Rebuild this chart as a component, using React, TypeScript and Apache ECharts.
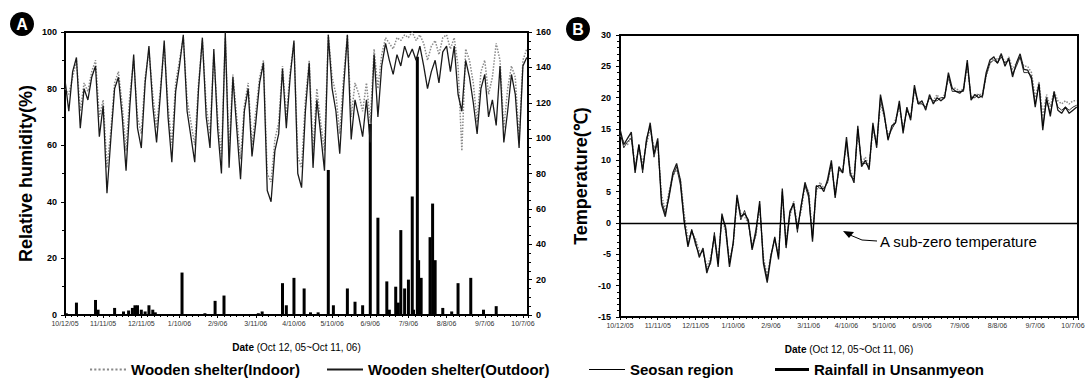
import React, { useEffect, useRef } from 'react';
import * as echarts from 'echarts';

const DATE_TICKS = ['10/12/05', '11/11/05', '12/11/05', '1/10/06', '2/9/06', '3/11/06', '4/10/06', '5/10/06', '6/9/06', '7/9/06', '8/8/06', '9/7/06', '10/7/06'];
const DAY_STEP = 3;

const RH_INDOOR = [80, 78, 84, 90, 72, 82, 79, 86, 90, 70, 76, 52, 65, 82, 86, 74, 58, 78, 90, 70, 64, 84, 93, 78, 66, 80, 95, 74, 60, 82, 90, 98, 76, 68, 60, 82, 97, 74, 64, 92, 70, 56, 98, 58, 85, 70, 55, 74, 82, 60, 72, 84, 90, 50, 47, 62, 68, 88, 70, 86, 96, 56, 52, 76, 90, 58, 80, 68, 58, 99, 84, 78, 64, 84, 99, 70, 82, 78, 72, 82, 68, 94, 80, 92, 98, 96, 94, 98, 97, 99, 98, 100, 97, 99, 96, 90, 95, 97, 92, 98, 99, 94, 98, 88, 58, 94, 90, 82, 68, 86, 90, 78, 84, 96, 90, 66, 80, 88, 84, 62, 90, 94];
const RH_OUTDOOR = [83, 72, 86, 91, 66, 80, 76, 84, 88, 63, 74, 43, 62, 80, 84, 70, 51, 74, 92, 66, 59, 82, 95, 74, 61, 78, 97, 70, 54, 79, 88, 99, 72, 63, 54, 80, 98, 70, 59, 94, 66, 50, 100, 52, 84, 66, 48, 72, 80, 56, 68, 82, 89, 44, 40, 58, 64, 87, 66, 84, 97, 50, 45, 72, 89, 52, 76, 64, 51, 99, 80, 72, 57, 80, 99, 62, 76, 70, 63, 76, 61, 92, 70, 88, 96, 90, 85, 92, 88, 95, 91, 94, 90, 95, 88, 80, 86, 90, 82, 93, 95, 86, 95, 78, 72, 90, 84, 75, 64, 80, 85, 70, 76, 67, 88, 61, 72, 85, 78, 59, 88, 91];

const RAIN_DAYS = [1, 9, 24, 26, 39, 46, 50, 53, 55, 57, 60, 63, 66, 69, 71, 92, 110, 118, 125, 152, 155, 171, 174, 180, 188, 193, 199, 207, 211, 222, 228, 234, 240, 246, 253, 255, 260, 262, 264, 267, 270, 273, 274, 277, 278, 280, 287, 289, 291, 297, 304, 309, 319, 329, 339];
const RAIN_MM = [1, 7, 8.5, 3, 4, 2, 2.5, 4, 5.5, 5.5, 3, 2, 5.5, 3, 1.5, 24, 1, 8, 11, 1, 2, 18, 5.5, 21, 15, 1.5, 1.5, 82, 5.5, 15, 7.5, 5.5, 108, 55, 19, 3, 16, 7, 48, 15, 20, 67, 3, 146, 31, 21, 44, 63, 31, 4, 2, 18, 21, 3, 5];

const T_INDOOR = [14, 13, 12.5, 14, 9, 12, 9.5, 12.5, 15, 12, 12.5, 4.5, 2, 5, 7.5, 8.5, 7, 1.5, -2.5, -1.5, -2.5, -4.5, -4.5, -7, -5.5, -2.5, -6, 1, -1.5, -6, -3.5, 3.5, 1.5, 1, 0, -3.5, -2, 2.5, -5.5, -8.5, -5, -2.8, -5, 4.5, -3, 1, 3.5, -0.5, 2, 6, 5, -2, 5, 6.5, 5.5, 6.5, 9.5, 4.5, 8.5, 8.5, 12.5, 8.5, 7, 14.5, 9.5, 10.5, 9, 15, 12.5, 19, 17, 14, 15, 16.5, 18.5, 15, 18, 17, 21, 19.5, 19, 18.5, 20, 19.5, 20.5, 19.5, 20.5, 23, 21.5, 21.5, 21, 21.5, 25, 20, 20.5, 20.5, 20.5, 23.5, 25.5, 26.5, 26, 27, 25.5, 26.5, 24.5, 25.5, 26.5, 25, 25, 24, 20, 22.5, 17, 20.5, 18.5, 21, 19.5, 19, 19.5, 19, 19.5, 19.5];
const T_OUTDOOR = [15, 12.5, 13.5, 14.5, 8, 12.5, 8.5, 13, 16, 11, 13.5, 3, 1, 4.5, 8, 9.5, 6.8, 0.5, -3.8, -1.2, -3, -5.5, -4, -8, -6, -2, -7, 1.5, -1, -7, -3.2, 4.5, 1, 1.5, 0.5, -4.3, -1.6, 3.5, -6.5, -9.5, -5.4, -2.2, -5.8, 5.5, -4, 1.6, 3.2, -1, 2.6, 6.5, 4.5, -3, 5.8, 6, 5, 7, 10, 4, 9, 8, 13.7, 8, 6.4, 15.5, 9, 10, 8.5, 16, 12, 20.5, 17.5, 13.2, 15.5, 16, 19.5, 14.3, 18.5, 16.4, 22, 19, 19.5, 18, 20.5, 19, 20, 19.5, 20, 24, 21.5, 21, 20.7, 21.3, 26, 19.6, 20.5, 20, 20.3, 24, 26, 26.5, 25.5, 27, 25, 26.3, 23.3, 25.5, 27, 24.5, 24.4, 23, 18.5, 22.3, 14.8, 20, 17, 21, 18, 17.5, 18.5, 17.5, 18, 18.5];
const T_SEOSAN = [14.5, 12, 13, 13.5, 8.5, 12.5, 8, 13.5, 15.5, 10.5, 13, 3.5, 1.5, 4, 7.5, 9, 6, 0, -3.5, -1, -3.5, -5, -4.5, -7.5, -6.5, -1.5, -6.5, 1, -0.5, -6.5, -3, 4, 0.5, 2, 0, -4, -1, 3, -6, -9, -5, -2.5, -5.5, 5, -3.5, 2, 3, -1.5, 3, 6, 4, -2.5, 6, 5.5, 5.5, 6.5, 9.5, 4.5, 8.5, 8, 13, 7.5, 7, 15, 9.5, 9.5, 9, 15.5, 12.5, 20, 17, 13.5, 15, 16, 19, 14.8, 18, 16.8, 21.5, 19, 19, 18.5, 20, 19.5, 19.5, 20, 20, 23.5, 21, 21, 21, 21, 25.5, 20, 20, 20.5, 20, 23.5, 25.5, 26, 25.5, 26.5, 25.5, 26, 23.8, 25, 26.5, 24, 24, 23.5, 19, 22, 15.5, 19.5, 17.5, 20.5, 18.5, 18, 18.5, 18, 18.5, 18.8];

const N_IN = 'Wooden shelter(Indoor)';
const N_OUT = 'Wooden shelter(Outdoor)';
const N_SEO = 'Seosan region';
const N_RAIN = 'Rainfall in Unsanmyeon';

const ICON_DOTTED = 'path://M0,0h2v2h-2z M4,0h2v2h-2z M8,0h2v2h-2z M12,0h2v2h-2z M16,0h2v2h-2z M20,0h2v2h-2z M24,0h2v2h-2z M28,0h2v2h-2z M32,0h2v2h-2z';
const ICON_MID = 'path://M0,0h36v2h-36z';
const ICON_THIN = 'path://M0,0h36v1h-36z';
const ICON_THICK = 'path://M0,0h34v3h-34z';

const pts = (arr: number[]) => arr.map((v, i) => [i * DAY_STEP, v]);

const FONT = 'Liberation Sans, Arial, sans-serif';

const dateFmt = (v: number) => {
  const k = v / 30;
  return Number.isInteger(k) && DATE_TICKS[k] ? DATE_TICKS[k] : '';
};

const xAxisBase = (gridIndex: number) => ({
  type: 'value',
  gridIndex,
  min: 0,
  max: 364,
  interval: 30,
  axisLine: { show: true, onZero: false, lineStyle: { color: '#000', width: 2 } },
  axisTick: { show: true, length: 3, lineStyle: { color: '#000' } },
  minorTick: { show: true, splitNumber: 6, length: 2, lineStyle: { color: '#000' } },
  splitLine: { show: false },
  axisLabel: { formatter: dateFmt, fontSize: 7, color: '#333', margin: 5, fontFamily: FONT },
  name: '{b|Date} (Oct 12, 05~Oct 11, 06)',
  nameLocation: 'middle',
  nameGap: 27,
  nameTextStyle: { fontSize: 10, color: '#000', fontFamily: FONT, rich: { b: { fontWeight: 'bold', fontSize: 10, color: '#000', fontFamily: FONT } } },
});

const yLabel = { fontSize: 9, fontWeight: 'bold', color: '#000', fontFamily: FONT };
const legendText = { fontSize: 15, fontWeight: 'bold', color: '#000', fontFamily: FONT };

export default function App() {
  const ref = useRef<HTMLDivElement>(null);
  useEffect(() => {
    if (!ref.current) return;
    const chart = echarts.init(ref.current, null, { renderer: 'svg' });
    const option: any = {
      animation: false,
      backgroundColor: '#fff',
      textStyle: { fontFamily: FONT },
      grid: [
        { left: 65, top: 32, width: 463, height: 283, show: true, borderColor: '#000', borderWidth: 2, backgroundColor: 'transparent' },
        { left: 620, top: 35, width: 458, height: 282, show: true, borderColor: '#000', borderWidth: 2, backgroundColor: 'transparent' },
      ],
      xAxis: [xAxisBase(0), xAxisBase(1)],
      yAxis: [
        {
          type: 'value', gridIndex: 0, position: 'left', min: 0, max: 100, interval: 20,
          axisLine: { show: true, lineStyle: { color: '#000', width: 2 } },
          axisTick: { show: true, length: 4, lineStyle: { color: '#000' } },
          minorTick: { show: true, splitNumber: 2, length: 3, lineStyle: { color: '#000' } },
          splitLine: { show: false },
          axisLabel: { ...yLabel, margin: 8 },
          name: 'Relative humidity(%)', nameLocation: 'middle', nameGap: 30,
          nameTextStyle: { fontSize: 18, fontWeight: 'bold', color: '#000', fontFamily: FONT },
        },
        {
          type: 'value', gridIndex: 0, position: 'right', min: 0, max: 160, interval: 20,
          axisLine: { show: true, lineStyle: { color: '#000', width: 2 } },
          axisTick: { show: true, length: 4, lineStyle: { color: '#000' } },
          minorTick: { show: true, splitNumber: 4, length: 3, lineStyle: { color: '#000' } },
          splitLine: { show: false },
          axisLabel: { ...yLabel, margin: 8 },
        },
        {
          type: 'value', gridIndex: 1, position: 'left', min: -15, max: 30, interval: 5,
          axisLine: { show: true, lineStyle: { color: '#000', width: 2 } },
          axisTick: { show: true, length: 4, lineStyle: { color: '#000' } },
          minorTick: { show: true, splitNumber: 5, length: 3, lineStyle: { color: '#000' } },
          splitLine: { show: false },
          axisLabel: { ...yLabel, margin: 9 },
          name: 'Temperature(℃)', nameLocation: 'middle', nameGap: 30,
          nameTextStyle: { fontSize: 18, fontWeight: 'bold', color: '#000', fontFamily: FONT },
        },
      ],
      legend: [
        { data: [{ name: N_IN, icon: ICON_DOTTED }], left: 85, top: 357, itemWidth: 36, itemHeight: 6, textStyle: legendText },
        { data: [{ name: N_OUT, icon: ICON_MID }], left: 322, top: 357, itemWidth: 36, itemHeight: 6, textStyle: legendText },
        { data: [{ name: N_SEO, icon: ICON_THIN }], left: 584, top: 357, itemWidth: 36, itemHeight: 6, textStyle: legendText },
        { data: [{ name: N_RAIN, icon: ICON_THICK }], left: 770, top: 357, itemWidth: 34, itemHeight: 6, textStyle: legendText },
      ],
      graphic: [
        { type: 'circle', shape: { cx: 22, cy: 24, r: 12 }, style: { fill: '#000' } },
        { type: 'text', x: 22, y: 24, style: { text: 'A', fill: '#fff', font: 'bold 16px ' + FONT, textAlign: 'center', textVerticalAlign: 'middle' } },
        { type: 'circle', shape: { cx: 578, cy: 29, r: 12 }, style: { fill: '#000' } },
        { type: 'text', x: 578, y: 29, style: { text: 'B', fill: '#fff', font: 'bold 16px ' + FONT, textAlign: 'center', textVerticalAlign: 'middle' } },
        { type: 'polyline', shape: { points: [[877, 241], [862, 240], [850, 235]] }, style: { stroke: '#000', lineWidth: 1, fill: null } },
        { type: 'polygon', shape: { points: [[843, 231], [854, 232], [849, 238]] }, style: { fill: '#000' } },
        { type: 'text', x: 880, y: 241, style: { text: 'A sub-zero temperature', fill: '#000', font: '15px ' + FONT, textAlign: 'left', textVerticalAlign: 'middle' } },
      ],
      series: [
        {
          name: N_IN, type: 'line', xAxisIndex: 0, yAxisIndex: 0, data: pts(RH_INDOOR), symbol: 'none',
          lineStyle: { color: '#8a8a8a', width: 1.5, type: 'dotted' }, itemStyle: { color: '#8a8a8a' },
        },
        {
          name: N_OUT, type: 'line', xAxisIndex: 0, yAxisIndex: 0, data: pts(RH_OUTDOOR), symbol: 'none',
          lineStyle: { color: '#1a1a1a', width: 1.3 }, itemStyle: { color: '#1a1a1a' },
        },
        {
          name: N_RAIN, type: 'bar', xAxisIndex: 0, yAxisIndex: 1, barWidth: 3,
          data: RAIN_DAYS.map((d, i) => [d, RAIN_MM[i]]), itemStyle: { color: '#000' },
        },
        {
          name: N_IN, type: 'line', xAxisIndex: 1, yAxisIndex: 2, data: pts(T_INDOOR), symbol: 'none',
          lineStyle: { color: '#8a8a8a', width: 1.5, type: 'dotted' }, itemStyle: { color: '#8a8a8a' },
        },
        {
          name: N_OUT, type: 'line', xAxisIndex: 1, yAxisIndex: 2, data: pts(T_OUTDOOR), symbol: 'none',
          lineStyle: { color: '#1a1a1a', width: 1.3 }, itemStyle: { color: '#1a1a1a' },
        },
        {
          name: N_SEO, type: 'line', xAxisIndex: 1, yAxisIndex: 2, data: pts(T_SEOSAN), symbol: 'none',
          lineStyle: { color: '#000', width: 0.8 }, itemStyle: { color: '#000' },
          markLine: {
            silent: true, symbol: 'none', label: { show: false },
            lineStyle: { color: '#000', width: 1.3, type: 'solid' },
            data: [{ yAxis: 0 }],
          },
        },
      ],
    };
    chart.setOption(option);
    return () => chart.dispose();
  }, []);
  return <div ref={ref} style={{ position: 'absolute', left: 0, top: 0, width: 1088, height: 385 }} />;
}
